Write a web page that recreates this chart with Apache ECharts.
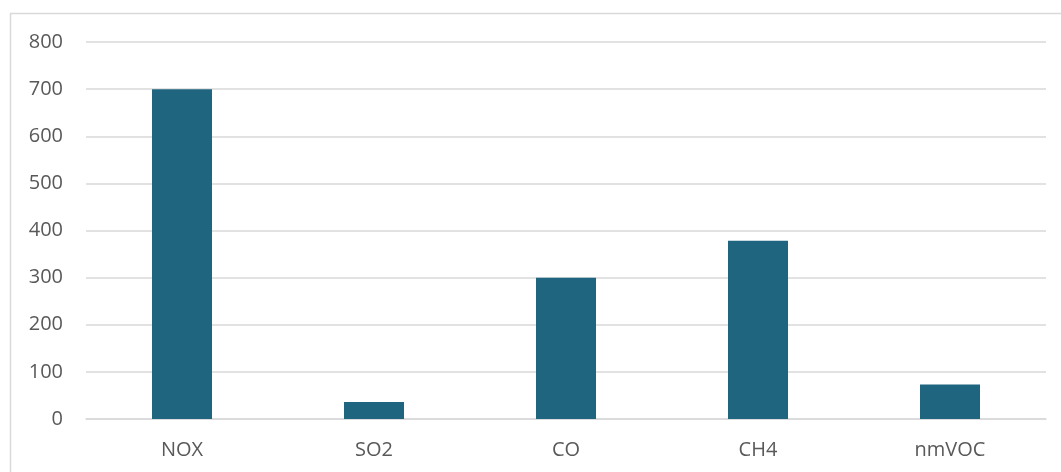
<!DOCTYPE html>
<html>
<head>
<meta charset="utf-8">
<script src="https://cdn.jsdelivr.net/npm/echarts@6/dist/echarts.min.js"></script>
<style>
  html, body { margin: 0; padding: 0; background: #fff; }
  #main { width: 1061px; height: 472px; }
</style>
</head>
<body>
<div id="main"></div>
<script>
var categories = ['NOX', 'SO2', 'CO', 'CH4', 'nmVOC'];
var values = [700, 36, 300, 378, 73];

var myChart = echarts.init(document.getElementById('main'));
var option = {
    animation: false,
    // outer chart frame
    graphic: [{
        type: 'rect',
        shape: { x: 10.5, y: 13.5, width: 1060, height: 470 },
        style: { fill: 'none', stroke: '#d9d9d9', lineWidth: 1.5 },
        silent: true
    }],
    grid: {
        left: 86,
        right: 15,
        top: 42,
        bottom: 53
    },
    xAxis: {
        type: 'category',
        data: categories,
        axisTick: { show: false },
        axisLine: { show: true, lineStyle: { color: '#d9d9d9', width: 1.5 } },
        axisLabel: {
            color: '#595959',
            fontSize: 20,
            fontFamily: 'Open Sans',
            margin: 21
        }
    },
    yAxis: {
        type: 'value',
        min: 0,
        max: 800,
        interval: 100,
        axisLine: { show: false },
        axisTick: { show: false },
        splitLine: { lineStyle: { color: '#d9d9d9', width: 1.5 } },
        axisLabel: {
            color: '#595959',
            fontSize: 20,
            fontFamily: 'Open Sans',
            margin: 23
        }
    },
    series: [{
        type: 'bar',
        data: values,
        barWidth: '31.25%',
        itemStyle: { color: '#1f6580' }
    }]
};
myChart.setOption(option);
</script>
</body>
</html>
